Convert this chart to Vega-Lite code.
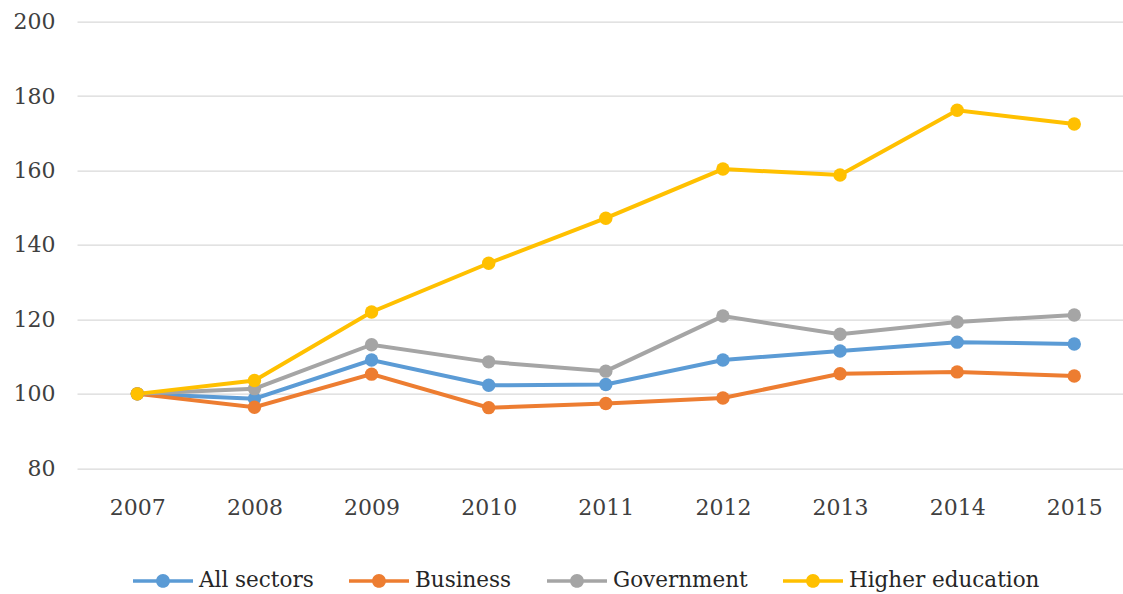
{
  "$schema": "https://vega.github.io/schema/vega-lite/v6.json",
  "autosize": {"type": "none"},
  "width": 1046,
  "height": 446.6,
  "padding": {"left": 77, "top": 21.7, "right": 0, "bottom": 126},
  "background": "white",
  "config": {
    "view": {"stroke": null},
    "font": "DejaVu Serif",
    "axis": {"labelFont": "DejaVu Serif", "labelColor": "#404040", "labelFontSize": 22, "domain": false, "ticks": false},
    "legend": {"labelFont": "DejaVu Serif", "labelColor": "#262626", "labelFontSize": 21.5, "labelLimit": 400}
  },
  "data": {
    "values": [
      {"year": 2007, "series": "All sectors", "value": 100},
      {"year": 2008, "series": "All sectors", "value": 98.7},
      {"year": 2009, "series": "All sectors", "value": 109.1},
      {"year": 2010, "series": "All sectors", "value": 102.3},
      {"year": 2011, "series": "All sectors", "value": 102.5},
      {"year": 2012, "series": "All sectors", "value": 109.1},
      {"year": 2013, "series": "All sectors", "value": 111.5},
      {"year": 2014, "series": "All sectors", "value": 113.9},
      {"year": 2015, "series": "All sectors", "value": 113.4},
      {"year": 2007, "series": "Business", "value": 100},
      {"year": 2008, "series": "Business", "value": 96.4},
      {"year": 2009, "series": "Business", "value": 105.3},
      {"year": 2010, "series": "Business", "value": 96.3},
      {"year": 2011, "series": "Business", "value": 97.4},
      {"year": 2012, "series": "Business", "value": 98.9},
      {"year": 2013, "series": "Business", "value": 105.4},
      {"year": 2014, "series": "Business", "value": 105.9},
      {"year": 2015, "series": "Business", "value": 104.8},
      {"year": 2007, "series": "Government", "value": 100},
      {"year": 2008, "series": "Government", "value": 101.4},
      {"year": 2009, "series": "Government", "value": 113.2},
      {"year": 2010, "series": "Government", "value": 108.6},
      {"year": 2011, "series": "Government", "value": 106.1},
      {"year": 2012, "series": "Government", "value": 120.9},
      {"year": 2013, "series": "Government", "value": 116.0},
      {"year": 2014, "series": "Government", "value": 119.3},
      {"year": 2015, "series": "Government", "value": 121.2},
      {"year": 2007, "series": "Higher education", "value": 100},
      {"year": 2008, "series": "Higher education", "value": 103.6},
      {"year": 2009, "series": "Higher education", "value": 122.0},
      {"year": 2010, "series": "Higher education", "value": 135.1},
      {"year": 2011, "series": "Higher education", "value": 147.2},
      {"year": 2012, "series": "Higher education", "value": 160.4},
      {"year": 2013, "series": "Higher education", "value": 158.8},
      {"year": 2014, "series": "Higher education", "value": 176.2},
      {"year": 2015, "series": "Higher education", "value": 172.5}
    ]
  },
  "mark": {"type": "line", "strokeWidth": 4, "point": {"filled": true, "size": 180, "opacity": 1}},
  "encoding": {
    "x": {
      "field": "year", "type": "quantitative",
      "scale": {"domain": [2006.485, 2015.416], "nice": false, "zero": false},
      "axis": {"title": null, "grid": false, "values": [2007, 2008, 2009, 2010, 2011, 2012, 2013, 2014, 2015], "format": "d", "labelPadding": 29, "labelFlush": false}
    },
    "y": {
      "field": "value", "type": "quantitative",
      "scale": {"domain": [80, 200], "nice": false, "zero": false},
      "axis": {"title": null, "values": [80, 100, 120, 140, 160, 180, 200], "grid": true, "gridColor": "#d9d9d9", "gridWidth": 1.3, "labelPadding": 22}
    },
    "color": {
      "field": "series", "type": "nominal",
      "scale": {"domain": ["All sectors", "Business", "Government", "Higher education"], "range": ["#5B9BD5", "#ED7D31", "#A5A5A5", "#FFC000"]},
      "legend": {
        "title": null,
        "orient": "none",
        "direction": "horizontal",
        "legendX": 56,
        "legendY": 529,
        "columns": 4,
        "columnPadding": 35,
        "labelOffset": 6,
        "symbolSize": 3600,
        "symbolType": "M-1,-0.06H1V0.06H-1Z M-0.23,0A0.23,0.23 0 1,1 0.23,0A0.23,0.23 0 1,1 -0.23,0Z",
        "symbolStrokeWidth": 0,
        "encode": {"symbols": {"update": {"fill": {"scale": "color", "field": "value"}, "strokeWidth": {"value": 0}, "opacity": {"value": 1}}}}
      }
    }
  }
}
